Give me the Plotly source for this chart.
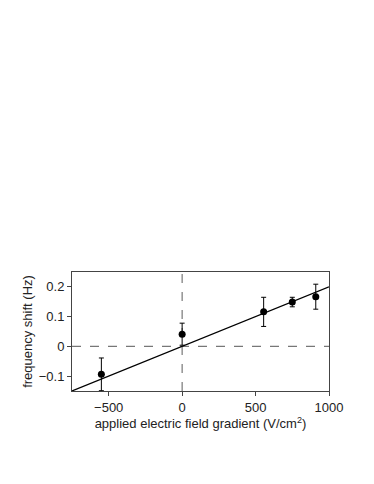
import plotly.graph_objects as go

# measured points (applied gradient V/cm^2, frequency shift Hz, error)
gradient = [-550, 0, 555, 750, 910]
shift = [-0.094, 0.041, 0.116, 0.149, 0.167]
shift_err = [0.055, 0.037, 0.049, 0.016, 0.042]

# linear fit through the origin
fit_x = [-750, 1000]
fit_slope = 0.0002
fit_y = [fit_slope * v for v in fit_x]

x_ticks = [-500, 0, 500, 1000]
x_labels = ["\u2212500", "0", "500", "1000"]
y_ticks = [-0.1, 0, 0.1, 0.2]
y_labels = ["\u22120.1", "0", "0.1", "0.2"]

fig = go.Figure()

# dashed zero lines
fig.add_trace(go.Scatter(x=[-750, 1000], y=[0, 0], mode="lines",
                         line=dict(color="#777777", width=1.2, dash="dash"),
                         showlegend=False, hoverinfo="skip"))
fig.add_trace(go.Scatter(x=[0, 0], y=[-0.15, 0.25], mode="lines",
                         line=dict(color="#777777", width=1.2, dash="dash"),
                         showlegend=False, hoverinfo="skip"))

fig.add_trace(go.Scatter(x=fit_x, y=fit_y, mode="lines",
                         line=dict(color="black", width=1.2),
                         showlegend=False))

fig.add_trace(go.Scatter(x=gradient, y=shift, mode="markers",
                         marker=dict(color="black", size=7),
                         error_y=dict(type="data", array=shift_err, color="black",
                                      thickness=1, width=2.5),
                         showlegend=False))

axis_common = dict(showline=True, mirror=True, linecolor="#444444", linewidth=1,
                   ticks="outside", ticklen=4, tickwidth=1, tickcolor="#444444",
                   showgrid=False, zeroline=False,
                   tickfont=dict(size=13, color="#222222"))

fig.update_xaxes(range=[-750, 1000], tickvals=x_ticks, ticktext=x_labels,
                 title=dict(text="applied electric field gradient (V/cm<sup>2</sup>)",
                            font=dict(size=13, color="#222222"), standoff=2),
                 **axis_common)
fig.update_yaxes(range=[-0.15, 0.25], tickvals=y_ticks, ticktext=y_labels,
                 title=dict(text="frequency shift (Hz)",
                            font=dict(size=13, color="#222222"), standoff=3),
                 **axis_common)

fig.update_layout(width=374, height=484,
                  margin=dict(l=64, r=53, t=264, b=101),
                  plot_bgcolor="white", paper_bgcolor="white",
                  font=dict(family="Liberation Sans, Arial, sans-serif"))

fig.write_html("out.html")
